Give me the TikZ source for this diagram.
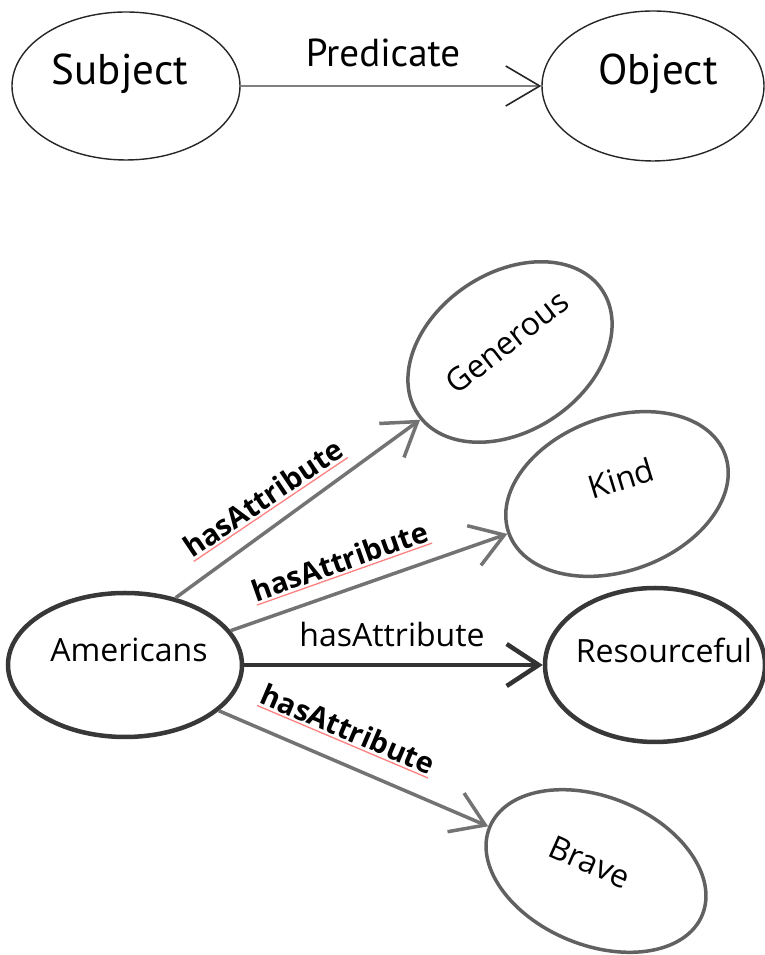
\documentclass[tikz,border=0pt]{standalone}
\usepackage{fontspec}
\setmainfont{Open Sans}
\newfontfamily\topfont{PT Sans}
\usetikzlibrary{arrows.meta,shapes.geometric}
\begin{document}
\begin{tikzpicture}[x=1pt,y=1pt,
  topell/.style={ellipse, draw=black!85, line width=1.4pt, inner sep=0pt},
  botell/.style={ellipse, draw=black!62, line width=3.5pt, inner sep=0pt},
  strongell/.style={ellipse, draw=black!78, line width=4.5pt, inner sep=0pt},
  toptext/.style={font=\topfont\fontsize{43}{50}\selectfont, anchor=base, inner sep=0pt},
  bottext/.style={font=\fontsize{32}{38}\selectfont, inner sep=0pt},
  rellabel/.style={font=\bfseries\fontsize{29}{34}\selectfont, inner xsep=0pt, inner ysep=2.5pt},
  squiggle/.style={draw=red!50, line width=1.3pt},
  toparrow/.style={draw=black!50, line width=2.4pt,
    -{Straight Barb[length=34pt,width=40pt,line width=1.6pt,color=black!85]}},
  rel/.style={draw=black!55, line width=3.5pt,
    -{Straight Barb[length=32pt,width=42pt,line width=3.5pt]}},
  strongrel/.style={draw=black!80, line width=4.5pt,
    -{Straight Barb[length=32pt,width=42pt,line width=4.5pt]}}
]
\useasboundingbox (0,0) rectangle (765,955);
% ---------- top triple ----------
\node (S) [topell, minimum width=228pt, minimum height=148pt] at (126,869) {};
\node (O) [topell, minimum width=222pt, minimum height=150pt] at (653,869) {};
\node (St) [toptext] at (120,870) {Subject};
\node (Ot) [toptext] at (658,870) {Object};
\node (Pt) [toptext, font=\topfont\fontsize{39}{46}\selectfont] at (383,888) {Predicate};
\draw[toparrow] (S.east) -- (O.west);
% ---------- bottom graph ----------
\node (A) [strongell, minimum width=234pt, minimum height=144pt] at (125,290) {};
\node (At) [bottext, anchor=base] at (129,293) {Americans};
\node (G) [botell, minimum width=222pt, minimum height=158pt, rotate=34] at (510,603) {};
\node (Gt) [bottext, rotate=38] at (507,613) {Generous};
\node (K) [botell, minimum width=230pt, minimum height=154pt, rotate=20] at (617,461) {};
\node (Kt) [bottext, rotate=17] at (621,477) {Kind};
\node (R) [strongell, minimum width=220pt, minimum height=154pt] at (655,290) {};
\node (Rt) [bottext, anchor=base] at (664,292) {Resourceful};
\node (B) [botell, minimum width=230pt, minimum height=148pt, rotate=-22.5] at (596,84) {};
\node (Bt) [bottext, rotate=-24] at (590,93) {Brave};
\draw[rel] (A.53) -- (G.183);
\draw[rel] (A.18) -- (K.180);
\draw[strongrel] (A.0) -- (R.180);
\draw[rel] (A.-26) -- (B.180);
\node (L1) [rellabel, rotate=34] at (263,457) {hasAttribute};
\node (L2) [rellabel, rotate=19.5] at (340,394) {hasAttribute};
\node (L3) [bottext, anchor=base] at (392,308) {hasAttribute};
\node (L4) [rellabel, rotate=-23] at (348,226) {hasAttribute};
\draw[squiggle] (L1.south west) -- (L1.south east);
\draw[squiggle] (L2.south west) -- (L2.south east);
\draw[squiggle] (L4.south west) -- (L4.south east);
\end{tikzpicture}
\end{document}
